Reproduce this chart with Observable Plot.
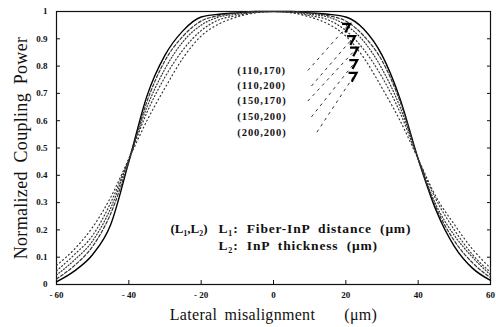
<!DOCTYPE html>
<html><head><meta charset="utf-8">
<script src="https://cdn.jsdelivr.net/npm/d3@7"></script>
<script src="https://cdn.jsdelivr.net/npm/@observablehq/plot@0.6"></script>
<style>
body{margin:0;background:#fff;}
#chart svg{font-family:"Liberation Serif","Times New Roman",serif;color:#111;}
#chart g[aria-label="x-axis label"] text{font-size:16px;font-weight:normal;word-spacing:3px;letter-spacing:0.3px;}
#chart g[aria-label="y-axis label"] text{font-size:18px;font-weight:normal;word-spacing:4px;letter-spacing:0.3px;}
#chart .annlabel text{letter-spacing:0.9px;}
#chart .legendtext text{letter-spacing:0.8px;}
</style></head><body><div id="chart"></div>
<script>
// Lateral misalignment (µm)
const misalignment = [-60,-55,-50,-45,-40,-35,-30,-25,-20,-15,-10,-5,0,5,10,15,20,25,30,35,40,45,50,55,60];
// Normalized coupling power for each (L1,L2)
const p110_170 = [0.01,0.05,0.11,0.22,0.45,0.69,0.84,0.93,0.98,0.99,0.995,1,1,1,0.995,0.99,0.98,0.935,0.84,0.68,0.46,0.27,0.14,0.06,0.015];
const p110_200 = [0.02,0.07,0.14,0.26,0.45,0.67,0.82,0.91,0.965,0.985,0.995,1,1,1,0.995,0.985,0.965,0.91,0.82,0.67,0.46,0.28,0.16,0.08,0.025];
const p150_170 = [0.035,0.09,0.16,0.28,0.46,0.65,0.79,0.89,0.95,0.98,0.99,0.998,1,0.998,0.99,0.98,0.95,0.89,0.79,0.65,0.46,0.29,0.18,0.1,0.035];
const p150_200 = [0.05,0.11,0.18,0.30,0.46,0.63,0.76,0.86,0.93,0.97,0.985,0.997,1,0.997,0.985,0.97,0.93,0.86,0.76,0.63,0.46,0.31,0.2,0.11,0.045];
const p200_200 = [0.07,0.13,0.21,0.32,0.46,0.60,0.72,0.83,0.91,0.955,0.98,0.995,1,0.995,0.98,0.955,0.91,0.83,0.72,0.60,0.46,0.32,0.22,0.13,0.06];
const seriesNames = ["(110,170)","(110,200)","(150,170)","(150,200)","(200,200)"];
const seriesValues = [p110_170,p110_200,p150_170,p150_200,p200_200];
// Axis ticks
const xTicks = [-60,-40,-20,0,20,40,60];
const yTicks = [0,0.1,0.2,0.3,0.4,0.5,0.6,0.7,0.8,0.9,1];
// Annotation anchors (data units)
const labelY = [0.784,0.727,0.672,0.614,0.558];
const leaderX = [9.5,10.5,9.5,10.5,12];
const headX = [21.0,22.4,23.2,23.0,22.8];
const headY = [0.955,0.91,0.868,0.822,0.775];
// Legend text
const legendKey = "(L₁,L₂)";
const legendLines = ["L₁:  Fiber-InP  distance  (μm)","L₂:  InP  thickness  (μm)"];
const legendY = [0.205,0.143];

const dashStyles = ["none","3,2","1,2","1,2.5","1,3"];
const widths = [1.4,1.2,1.2,1.2,1.2];

// "7"-shaped arrowhead glyph (tip at upper right)
const head7 = {
  draw(context, size) {
    const s = Math.sqrt(size) * 0.9;
    context.moveTo(-s * 0.55, -s * 0.5);
    context.lineTo(s * 0.45, -s * 0.5);
    context.lineTo(-s * 0.15, s * 0.6);
  }
};

const data = seriesNames.flatMap((name,i)=>misalignment.map((x,j)=>({x, y: seriesValues[i][j], name})));
const ann = seriesNames.map((name,i)=>({name, ly: labelY[i], lx: leaderX[i], hx: headX[i], hy: headY[i]}));

const fmtX = d => d < 0 ? "- " + (-d) : String(d);
const fmtY = d => d === 0 ? "0" : d === 1 ? "1" : d.toFixed(1);

const lineMarks = seriesNames.map((name,i)=>Plot.line(data.filter(d=>d.name===name), {
  x:"x", y:"y", curve:"monotone-x", stroke: i===0 ? "#000" : "#333",
  strokeWidth: widths[i], strokeDasharray: dashStyles[i]
}));

const chart = Plot.plot({
  width:496, height:327,
  marginLeft:56, marginRight:6, marginTop:11, marginBottom:43,
  x:{domain:[-60,60]},
  y:{domain:[0,1]},
  marks:[
    Plot.frame({stroke:"#111", strokeWidth:1.2}),
    Plot.axisX({ticks:xTicks, tickSize:-4, tickPadding:11, tickFormat:fmtX, fontSize:9, fontWeight:"bold",
      label:"Lateral misalignment    (μm)", labelAnchor:"center", labelArrow:"none", labelOffset:35}),
    Plot.axisY({ticks:yTicks, tickSize:-4, tickPadding:13, tickFormat:fmtY, fontSize:9, fontWeight:"bold",
      label:"Normalized Coupling Power", labelAnchor:"center", labelArrow:"none", labelOffset:42}),
    Plot.axisY({anchor:"right", ticks:yTicks, tickSize:-4, tickFormat:()=>"", label:null}),
    ...lineMarks,
    Plot.text(ann, {x:-10, y:"ly", text:"name", textAnchor:"start", fontSize:10.5, fontWeight:"bold", className:"annlabel"}),
    Plot.link(ann, {x1:"lx", y1:"ly", x2:"hx", y2:"hy", stroke:"#333", strokeWidth:1, strokeDasharray:"3,4"}),
    Plot.dot(ann, {x:"hx", y:"hy", symbol:head7, r:5, stroke:"#000", strokeWidth:2.2, fill:"none", dx:-3, dy:4}),
    Plot.text([legendKey], {x:-28.5, y:legendY[0], text:d=>d, textAnchor:"start", fontSize:13, fontWeight:"bold"}),
    Plot.text(legendLines, {x:-15.2, y:(d,i)=>legendY[i], text:d=>d, textAnchor:"start", fontSize:13.5, fontWeight:"bold", className:"legendtext"})
  ]
});
document.getElementById("chart").append(chart);
</script></body></html>
